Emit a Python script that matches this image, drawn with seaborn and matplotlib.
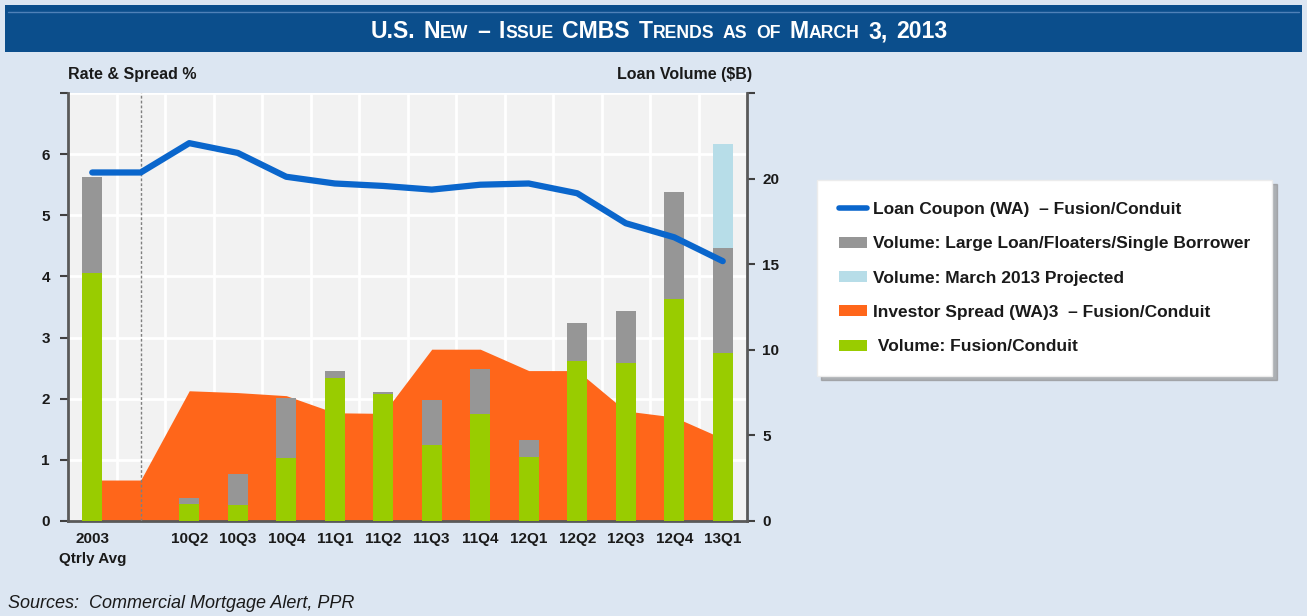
import numpy as np
import pandas as pd
import matplotlib
matplotlib.use("Agg")
import matplotlib.pyplot as plt
from matplotlib.lines import Line2D
from matplotlib.patches import Patch, Rectangle
import seaborn as sns

# data
quarters = ["2003", "gap", "10Q2", "10Q3", "10Q4", "11Q1", "11Q2", "11Q3",
            "11Q4", "12Q1", "12Q2", "12Q3", "12Q4", "13Q1"]
tick_labels = ["2003\nQtrly Avg", "", "10Q2", "10Q3", "10Q4", "11Q1", "11Q2",
               "11Q3", "11Q4", "12Q1", "12Q2", "12Q3", "12Q4", "13Q1"]
loan_coupon = [5.70, 5.70, 6.18, 6.02, 5.63, 5.52, 5.48, 5.42, 5.50, 5.52,
               5.36, 4.87, 4.64, 4.25]
investor_spread = [0.67, 0.67, 2.13, 2.10, 2.05, 1.77, 1.76, 2.81, 2.81, 2.46,
                   2.46, 1.80, 1.70, 1.35]
vol_fusion = [14.5, 0, 1.02, 0.92, 3.7, 8.37, 7.39, 4.45, 6.25, 3.71, 9.35,
              9.25, 12.98, 9.84]
vol_large = [5.6, 0, 0.35, 1.83, 3.5, 0.39, 0.16, 2.59, 2.63, 1.04, 2.22,
             2.99, 6.22, 6.12]
vol_projected = [0, 0, 0, 0, 0, 0, 0, 0, 0, 0, 0, 0, 0, 6.08]

legend_labels = ["Loan Coupon (WA)  \u2013 Fusion/Conduit",
                 "Volume: Large Loan/Floaters/Single Borrower",
                 "Volume: March 2013 Projected",
                 "Investor Spread (WA)3  \u2013 Fusion/Conduit",
                 " Volume: Fusion/Conduit"]

BLUE = "#0A66CC"
GRAY = "#969696"
LBLUE = "#B7DDE8"
ORANGE = "#FF661A"
GREEN = "#99CC00"
DARK = "#404040"

sns.set_style("white")
plt.rcParams['font.family'] = ['Liberation Sans', 'DejaVu Sans']
plt.rcParams['font.weight'] = 'bold'
plt.rcParams['text.color'] = '#1a1a1a'
plt.rcParams['xtick.color'] = DARK
plt.rcParams['ytick.color'] = DARK
plt.rcParams['xtick.labelcolor'] = '#1a1a1a'
plt.rcParams['ytick.labelcolor'] = '#1a1a1a'

df = pd.DataFrame({"quarter": quarters, "fusion": vol_fusion,
                   "large": vol_large, "proj": vol_projected})
df["fusion_large"] = df["fusion"] + df["large"]
df["total"] = df["fusion_large"] + df["proj"]
pos = np.arange(len(quarters))

W, H = 1307, 616
fig = plt.figure(figsize=(W / 100, H / 100), dpi=100, facecolor="#DCE6F2")
ax = fig.add_axes([68 / W, 95 / H, (747 - 68) / W, (521 - 93) / H])
ax.set_facecolor("#F2F2F2")

# spread area (left axis, bottom layer)
ax.fill_between(pos, investor_spread, 0, color=ORANGE, lw=0, zorder=2)
ax.axvline(1, color="#7f7f7f", ls=(0, (2, 1.5)), lw=1, zorder=3)

# stacked volume bars (right axis)
ax2 = ax.twinx()
sns.barplot(data=df, x="quarter", y="total", order=quarters, color=LBLUE,
            saturation=1, width=0.41, errorbar=None, linewidth=0, ax=ax2)
sns.barplot(data=df, x="quarter", y="fusion_large", order=quarters, color=GRAY,
            saturation=1, width=0.41, errorbar=None, linewidth=0, ax=ax2)
sns.barplot(data=df, x="quarter", y="fusion", order=quarters, color=GREEN,
            saturation=1, width=0.41, errorbar=None, linewidth=0, ax=ax2)

# coupon line (left scale, top layer)
ax3 = ax.twinx()
sns.lineplot(x=pos, y=loan_coupon, color=BLUE, lw=4.5, ax=ax3,
             solid_capstyle="round", solid_joinstyle="round")

ax.set_xlim(-0.5, 13.5)
ax.set_ylim(0, 7)
ax2.set_ylim(0, 25)
ax3.set_ylim(0, 7)

ax.set_yticks(range(8), ["0", "1", "2", "3", "4", "5", "6", ""])
ax2.set_yticks([0, 5, 10, 15, 20, 25], ["0", "5", "10", "15", "20", ""])
ax.set_xticks(pos, tick_labels)
ax.set_xticks(np.arange(-0.5, 14, 1), minor=True)
for lab in ax.get_xticklabels():
    lab.set_linespacing(1.55)

ax.tick_params(axis="y", direction="out", length=6, width=1.5, labelsize=11, pad=7)
ax2.tick_params(axis="y", direction="out", length=6, width=1.5, labelsize=11, pad=5)
ax.tick_params(axis="x", which="major", length=0, labelsize=11, pad=8)
ax.tick_params(axis="x", which="minor", direction="out", length=6, width=1.5)

ax.set_axisbelow(True)
ax.grid(True, which="major", axis="y", color="white", lw=2)
ax.grid(True, which="minor", axis="x", color="white", lw=2)
ax.grid(False, which="major", axis="x")

for a in (ax, ax2, ax3):
    a.set_xlabel("")
    a.set_ylabel("")
    for s in a.spines.values():
        s.set_visible(False)
ax.spines["left"].set_visible(True)
ax.spines["bottom"].set_visible(True)
ax2.spines["right"].set_visible(True)
for s in (ax.spines["left"], ax.spines["bottom"], ax2.spines["right"]):
    s.set_color("#595959")
    s.set_linewidth(2)
ax3.yaxis.set_visible(False)

# axis titles
fig.text(68 / W, 1 - 75 / H, "Rate & Spread %", fontsize=11.5, va="center", ha="left")
fig.text(752 / W, 1 - 75 / H, "Loan Volume ($B)", fontsize=11.5, va="center", ha="right")

# legend
handles = [Line2D([0], [0], color=BLUE, lw=4, solid_capstyle="round"),
           Patch(facecolor=GRAY, lw=0), Patch(facecolor=LBLUE, lw=0),
           Patch(facecolor=ORANGE, lw=0), Patch(facecolor=GREEN, lw=0)]
leg = fig.legend(handles, legend_labels, loc="upper left",
                 bbox_to_anchor=(817 / W, 1 - 180 / H), borderaxespad=0,
                 fontsize=12.5, handlelength=1.65, handleheight=0.6,
                 handletextpad=0.35, labelspacing=1.12, borderpad=1.25,
                 frameon=True, fancybox=False, facecolor="white",
                 edgecolor="#ececec", framealpha=1,
                 shadow={"color": "#8c8c8c", "alpha": 0.6, "ox": 3, "oy": -3})

# title bar
fig.add_artist(Rectangle((5 / W, 1 - 52 / H), (W - 10) / W, 47 / H,
                         transform=fig.transFigure, facecolor="#0B4E8C", lw=0))
fig.add_artist(Line2D([8 / W, (W - 8) / W], [1 - 12 / H, 1 - 12 / H],
                      transform=fig.transFigure, color="#4f81b8", lw=1))

title_words = [[("U.S.", 1)], [("N", 1), ("EW", 0)], [("\u2013", 1)],
               [("I", 1), ("SSUE", 0)], [("CMBS", 1)], [("T", 1), ("RENDS", 0)],
               [("AS", 0)], [("OF", 0)], [("M", 1), ("ARCH", 0)], [("3,", 1)],
               [("2013", 1)]]
title_font = ['Liberation Sans Narrow', 'Liberation Sans']
renderer = fig.canvas.get_renderer()


def place_title(big, small):
    runs = []
    for wi, word in enumerate(title_words):
        for txt, is_big in word:
            t = fig.text(0, 1 - 38 / H, txt, fontsize=big if is_big else small,
                         color="white", family=title_font, va="baseline")
            runs.append((t, wi))
    gap = 0.38 * big * 100 / 72
    xs, x, last = [], 0.0, None
    for t, wi in runs:
        if last is not None and wi != last:
            x += gap
        xs.append(x)
        x += t.get_window_extent(renderer).width
        last = wi
    return runs, xs, x


runs, xs, total = place_title(15, 11.5)
f = 578 / total
for t, _ in runs:
    t.remove()
runs, xs, total = place_title(15 * f, 11.5 * f)
x0 = 659 - total / 2
for (t, _), xx in zip(runs, xs):
    t.set_x((x0 + xx) / W)

fig.text(8 / W, 1 - 603 / H, "Sources:  Commercial Mortgage Alert, PPR",
         fontsize=13, fontweight="normal", style="italic", va="center")

fig.savefig("out.png", dpi=100, facecolor=fig.get_facecolor())
